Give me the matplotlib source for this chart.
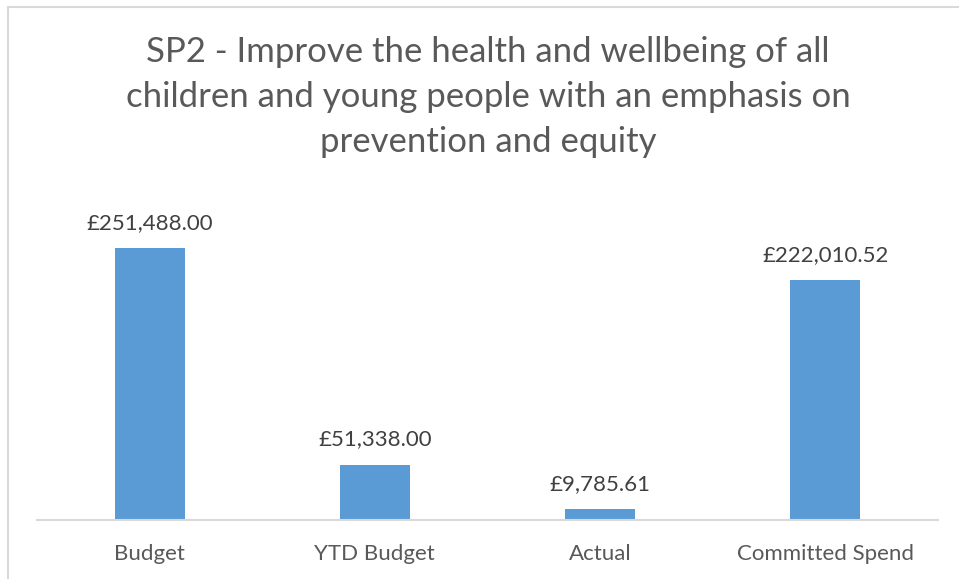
import matplotlib
matplotlib.use("Agg")
import matplotlib.pyplot as plt
from matplotlib.patches import Rectangle

categories = ["Budget", "YTD Budget", "Actual", "Committed Spend"]
values = [251488.00, 51338.00, 9785.61, 222010.52]

plt.rcParams['font.family'] = ['Lato', 'DejaVu Sans']

W, H = 959, 579
fig = plt.figure(figsize=(W / 100, H / 100), dpi=100)
fig.patch.set_facecolor("white")

# chart-area frame (runs off the right and bottom edges)
fig.add_artist(Rectangle((7.5 / W, -0.05), 1.2, 1 - 6.5 / H + 0.05,
                         transform=fig.transFigure, fill=False,
                         edgecolor="#d9d9d9", linewidth=1.5))

left, right = 37 / W, 938 / W
bottom, top = 1 - 520 / H, 1 - 196 / H
ax = fig.add_axes([left, bottom, right - left, top - bottom])

x = range(len(categories))
bars = ax.bar(x, values, width=0.31, color="#5b9bd5")
ax.set_xlim(-0.5, len(categories) - 0.5)
ax.set_ylim(0, 300000)

for rect, v in zip(bars, values):
    ax.annotate(f"£{v:,.2f}", (rect.get_x() + rect.get_width() / 2, v),
                xytext=(0, 11), textcoords="offset points",
                ha="center", va="bottom", fontsize=16, color="#404040")

ax.set_xticks(list(x))
ax.set_xticklabels(categories, fontsize=16, color="#595959")
ax.tick_params(axis="x", length=0, pad=17)
ax.set_yticks([])
for s in ["top", "right", "left"]:
    ax.spines[s].set_visible(False)
ax.spines["bottom"].set_color("#d9d9d9")
ax.spines["bottom"].set_linewidth(1.5)

fig.text(488 / W, 1 - 97 / H,
         "SP2 - Improve the health and wellbeing of all\n"
         "children and young people with an emphasis on\n"
         "prevention and equity",
         ha="center", va="center", fontsize=25, color="#595959",
         linespacing=1.5)

fig.savefig("out.png", dpi=100, facecolor="white")
